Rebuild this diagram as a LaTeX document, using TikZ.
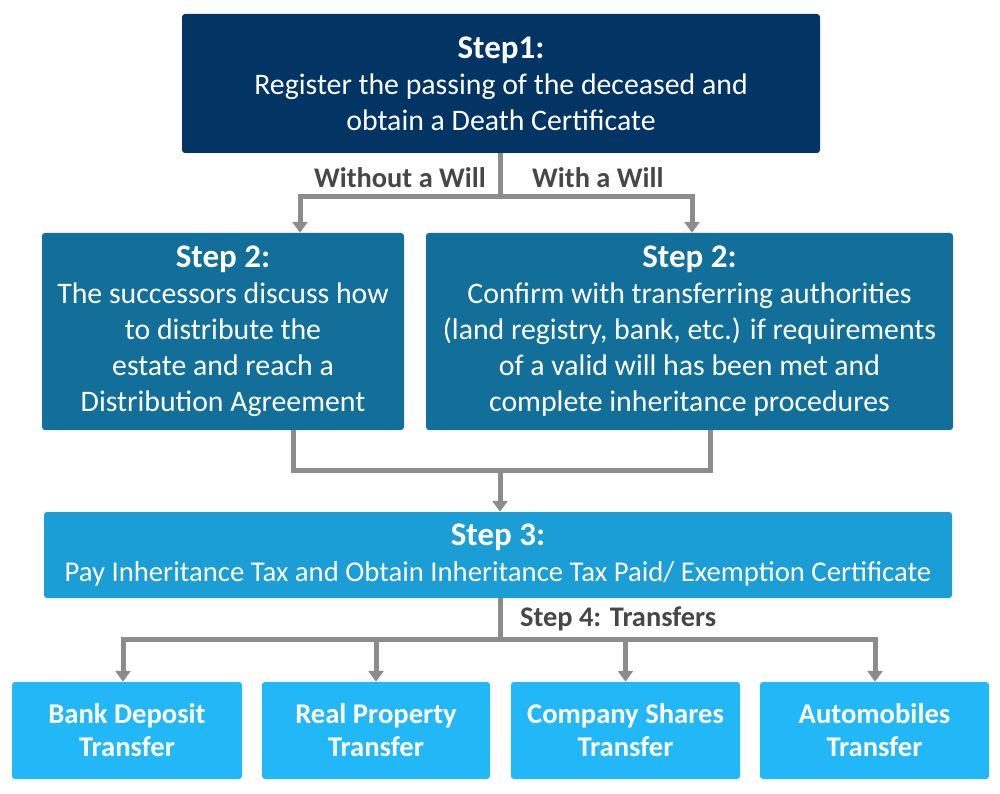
\documentclass[tikz,border=0pt]{standalone}
\usepackage{fontspec}
\setmainfont{Carlito}
\usetikzlibrary{arrows.meta,calc}
\definecolor{navy}{HTML}{023464}
\definecolor{teal2}{HTML}{126F99}
\definecolor{blue3}{HTML}{1B9DD6}
\definecolor{sky4}{HTML}{22B8F8}
\definecolor{linegray}{HTML}{8C8C8C}
\definecolor{labelgray}{HTML}{474747}
\newcommand{\ttl}[1]{{\fontsize{33}{36}\selectfont\bfseries #1}}
\tikzset{
  box/.style={rounded corners=3pt, inner sep=0pt, text=white, align=center, font=\fontsize{29.8}{36}\selectfont},
  s1box/.style={box, fill=navy, minimum width=638pt, minimum height=139pt},
  s2box/.style={box, fill=teal2, minimum height=197pt},
  s3box/.style={box, fill=blue3, minimum width=908pt, minimum height=86pt, font=\fontsize{28.7}{36}\selectfont},
  s4box/.style={box, fill=sky4, minimum width=229pt, minimum height=97pt, font=\fontsize{28.6}{33}\selectfont\bfseries},
  conn/.style={draw=linegray, line width=5pt},
  arr/.style={conn, -{Triangle[width=15pt,length=11pt]}},
  lbl/.style={text=labelgray, font=\fontsize{28.4}{30}\selectfont\bfseries, inner sep=0pt},
}
\begin{document}
\begin{tikzpicture}[x=1pt,y=-1pt]
\useasboundingbox (0,0) rectangle (1000,794);
\node[s1box] (s1) at (501,83.5) {\ttl{Step1:}\\Register the passing of the deceased and\\obtain a Death Certificate};
\node[s2box, minimum width=362pt] (s2l) at (223,331.5) {\ttl{Step 2:}\\The successors discuss how\\to distribute the\\estate and reach a\\Distribution Agreement};
\node[s2box, minimum width=527pt] (s2r) at (689.5,331.5) {\ttl{Step 2:}\\Confirm with transferring authorities\\(land registry, bank, etc.) if requirements\\of a valid will has been met and\\complete inheritance procedures};
\node[s3box] (s3) at (498,555) {\ttl{Step 3:}\\Pay Inheritance Tax and Obtain Inheritance Tax Paid/ Exemption Certificate};
\node[s4box, minimum width=230pt] (b1) at (127,730.5) {Bank Deposit\\Transfer};
\node[s4box, minimum width=228pt] (b2) at (376,730.5) {Real Property\\Transfer};
\node[s4box] (b3) at (625.5,730.5) {Company Shares\\Transfer};
\node[s4box] (b4) at (874.5,730.5) {Automobiles\\Transfer};
% labels
\node[lbl, anchor=east] (lw) at (486,178) {Without a Will};
\node[lbl, anchor=west] (lw2) at (532,178) {With a Will};
\node[lbl, anchor=west] (l4) at (520,619) {Step 4: Transfers};
% junctions
\coordinate (j1) at (500,197);
\coordinate (j2) at (500,470);
\coordinate (j3) at (500,639);
% step1 -> step2
\draw[conn] ($(s1.south)+(-1,0)$) -- (j1);
\draw[arr] (j1) -| ($(s2l.north)+(77,0)$);
\draw[arr] (j1) -| ($(s2r.north)+(2.5,0)$);
% step2 -> step3
\draw[conn] ($(s2l.south)+(70,0)$) |- (j2);
\draw[conn] ($(s2r.south)+(21,0)$) |- (j2);
\draw[arr] (j2) -- ($(s3.north)+(2,0)$);
% step3 -> step4
\draw[conn] ($(s3.south)+(2,0)$) -- (j3);
\draw[arr] (j3) -| ($(b1.north)+(-4,0)$);
\draw[arr] (j3) -| (b2.north);
\draw[arr] (j3) -| (b3.north);
\draw[arr] (j3) -| ($(b4.north)+(0.5,0)$);
\end{tikzpicture}
\end{document}
